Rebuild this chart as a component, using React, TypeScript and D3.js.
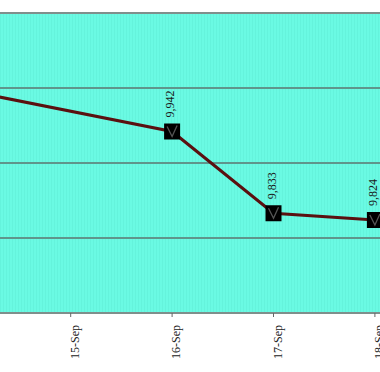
import React from "react";
import * as d3 from "d3";

const dates = ["14-Sep", "15-Sep", "16-Sep", "17-Sep", "18-Sep"];
const values: (number | null)[] = [9996, null, 9942, 9833, 9824];
const labels = ["9,996", "", "9,942", "9,833", "9,824"];
const yTicks = [9700, 9800, 9900, 10000, 10100];

const W = 380;
const H = 372;

export default function App() {
  const x = d3.scaleLinear().domain([0, dates.length - 1]).range([-30.7, 374.9]);
  const y = d3.scaleLinear().domain([9700, 10100]).range([313, 13]);
  const pts = values
    .map((v, i) => ({ i, v }))
    .filter((d) => d.v !== null) as { i: number; v: number }[];
  const line = d3
    .line<{ i: number; v: number }>()
    .x((d) => x(d.i))
    .y((d) => y(d.v));
  const font = "'Liberation Serif', 'Times New Roman', serif";
  const ms = 16;
  const visible = (px: number) => px >= 0;
  return (
    <svg
      width={W}
      height={H}
      style={{ position: "absolute", left: 0, top: 0, background: "#fff" }}
    >
      <defs>
        <pattern id="stripes" width="3" height="4" patternUnits="userSpaceOnUse">
          <rect width="3" height="4" fill="#6AFAE3" />
          <rect width="1" height="4" fill="#64F3DC" />
        </pattern>
      </defs>
      <rect x={0} y={y(10100)} width={W} height={y(9700) - y(10100)} fill="url(#stripes)" />
      {yTicks.map((t) => (
        <line
          key={t}
          x1={0}
          x2={W}
          y1={y(t)}
          y2={y(t)}
          stroke={t === 9700 || t === 10100 ? "#7f8f8c" : "#5f958c"}
          strokeWidth={2}
        />
      ))}
      {dates.map((d, i) =>
        visible(x(i)) ? (
          <g key={d}>
            <line x1={x(i)} x2={x(i)} y1={y(9700)} y2={y(9700) + 4} stroke="#666" strokeWidth={1} />
            <text
              transform={`translate(${x(i) + 8},${y(9700) + 12}) rotate(-90)`}
              textAnchor="end"
              fontFamily={font}
              fontSize={12}
              fill="#222"
            >
              {d}
            </text>
          </g>
        ) : null
      )}
      <path d={line(pts) || ""} fill="none" stroke="#5a1010" strokeWidth={3} />
      {pts.map((d) => {
        const cx = x(d.i);
        const cy = y(d.v);
        return (
          <g key={d.i}>
            <rect x={cx - ms / 2} y={cy - ms / 2} width={ms} height={ms} fill="#000" />
            <path
              d={`M${cx - 5},${cy - 5} L${cx},${cy + 5} L${cx + 5},${cy - 6}`}
              fill="none"
              stroke="#555"
              strokeWidth={1.3}
            />
            {visible(cx) ? (
              <text
                transform={`translate(${cx + 2},${cy - 14}) rotate(-90)`}
                textAnchor="start"
                fontFamily={font}
                fontSize={12}
                fill="#1a1a1a"
              >
                {labels[d.i]}
              </text>
            ) : null}
          </g>
        );
      })}
    </svg>
  );
}
